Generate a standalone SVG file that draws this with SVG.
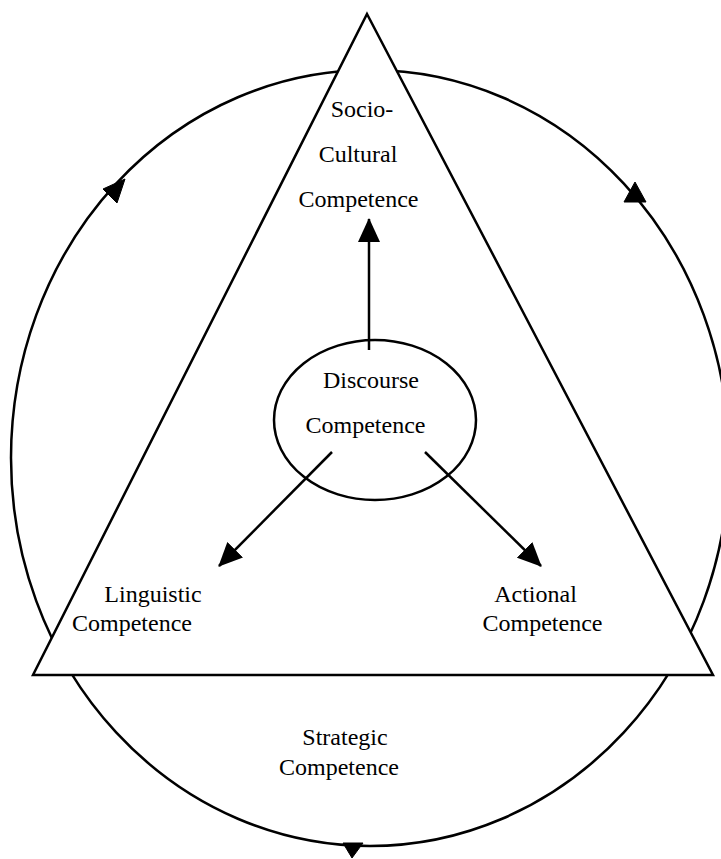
<svg xmlns="http://www.w3.org/2000/svg" width="721" height="859" viewBox="0 0 721 859">
<style>
  .ln { fill: none; stroke: #000; stroke-width: 2.5; }
  .shape { fill: #fff; stroke: #000; stroke-width: 2.5; stroke-linejoin: miter; }
  .lbl { font-family: "Liberation Serif", "Times New Roman", serif; font-size: 24px; fill: #000; text-anchor: middle; }
  .head { fill: #000; stroke: #000; stroke-width: 1; }
</style>
<defs>
  <marker id="arr" viewBox="0 0 24 22" refX="23" refY="11" markerWidth="24" markerHeight="22" markerUnits="userSpaceOnUse" orient="auto">
    <path d="M0,0 L24,11 L0,22 Z" fill="#000"/>
  </marker>
</defs>
<g id="strategic">
  <ellipse class="ln" cx="370" cy="458" rx="359" ry="388"/>
  <polygon class="head" points="125,179 103,189 117,203"/>
  <polygon class="head" points="635,182 624,202 646,202"/>
  <polygon class="head" points="352,858 343,843 363,843"/>
  <text class="lbl" x="345" y="745">Strategic</text>
  <text class="lbl" x="339" y="775">Competence</text>
</g>
<g id="triangle">
  <polygon class="shape" points="367,14 713,675 33,675"/>
</g>
<g id="sociocultural">
  <text class="lbl" x="362" y="117">Socio-</text>
  <text class="lbl" x="358" y="162">Cultural</text>
  <text class="lbl" x="358.5" y="207">Competence</text>
</g>
<g id="discourse">
  <ellipse class="shape" cx="375" cy="420" rx="101" ry="80"/>
  <text class="lbl" x="371" y="388">Discourse</text>
  <text class="lbl" x="365.5" y="433">Competence</text>
</g>
<g id="linguistic">
  <text class="lbl" x="153" y="602">Linguistic</text>
  <text class="lbl" x="132" y="631">Competence</text>
</g>
<g id="actional">
  <text class="lbl" x="535.5" y="602">Actional</text>
  <text class="lbl" x="542.5" y="631">Competence</text>
</g>
<g id="connectors">
  <line class="ln" x1="369" y1="350" x2="369" y2="219" marker-end="url(#arr)"/>
  <line class="ln" x1="332" y1="452" x2="219" y2="566" marker-end="url(#arr)"/>
  <line class="ln" x1="425" y1="452" x2="541" y2="566" marker-end="url(#arr)"/>
</g>
</svg>
